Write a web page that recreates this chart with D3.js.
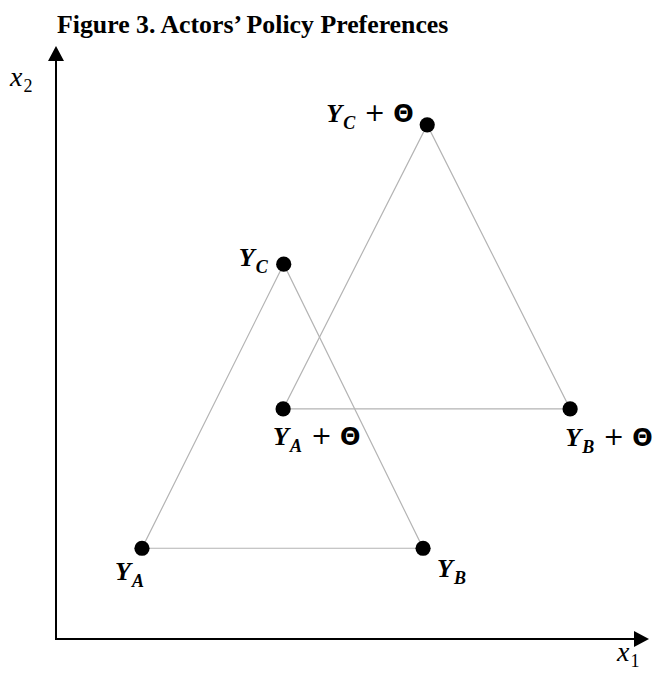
<!DOCTYPE html>
<html>
<head>
<meta charset="utf-8">
<script src="https://cdn.jsdelivr.net/npm/d3@7"></script>
<style>
  html, body { margin: 0; padding: 0; background: #fff; }
  svg { display: block; }
</style>
</head>
<body>
<div id="chart"></div>
<script>
// actors' ideal points (axis units 0-100)
const actors   = ["A", "B", "C", "A", "B", "C"];
const shifted  = [false, false, false, true, true, true];
const xValues  = [14.5, 61.9, 38.4, 38.3, 86.7, 62.6];
const yValues  = [15.3, 15.3, 63.2, 38.8, 38.8, 86.7];
const triangles = [[0, 1, 2], [3, 4, 5]];

const titleText = "Figure 3. Actors\u2019 Policy Preferences";
const axisNames = ["1", "2"];   // subscripts of x_1 and x_2

const width = 658, height = 684;
const svg = d3.select("#chart").append("svg")
    .attr("width", width)
    .attr("height", height);

const xScale = d3.scaleLinear().domain([0, 100]).range([56, 649]);
const yScale = d3.scaleLinear().domain([0, 100]).range([639, 46]);

const points = actors.map((a, i) => ({
    actor: a, theta: shifted[i], x: xValues[i], y: yValues[i]
}));

// title
svg.append("text")
    .attr("x", 57)
    .attr("y", 33)
    .attr("font-family", "Liberation Serif, Times New Roman, serif")
    .attr("font-weight", "bold")
    .attr("font-size", 25.8)
    .text(titleText);

// axes with arrow heads
const axisG = svg.append("g");
axisG.append("line")
    .attr("x1", xScale(0)).attr("y1", yScale(0))
    .attr("x2", xScale(100) - 10).attr("y2", yScale(0))
    .attr("stroke", "#000").attr("stroke-width", 2);
axisG.append("line")
    .attr("x1", xScale(0)).attr("y1", yScale(0) + 1)
    .attr("x2", xScale(0)).attr("y2", yScale(100) + 10)
    .attr("stroke", "#000").attr("stroke-width", 2);
axisG.append("path")
    .attr("d", `M${xScale(100)},${yScale(0)} L${xScale(100) - 15},${yScale(0) - 8} L${xScale(100) - 15},${yScale(0) + 8} Z`)
    .attr("fill", "#000");
axisG.append("path")
    .attr("d", `M${xScale(0)},${yScale(100)} L${xScale(0) - 8},${yScale(100) + 15} L${xScale(0) + 8},${yScale(100) + 15} Z`)
    .attr("fill", "#000");

// axis names x_1, x_2
function axisLabel(x, y, sub) {
    const t = svg.append("text")
        .attr("x", x).attr("y", y)
        .attr("font-family", "Liberation Serif, Times New Roman, serif");
    t.append("tspan").attr("font-style", "italic").attr("font-size", 28).text("x");
    t.append("tspan").attr("font-size", 18).attr("dy", 6).attr("dx", 1).text(sub);
}
axisLabel(617, 661, axisNames[0]);
axisLabel(10, 86, axisNames[1]);

// triangle edges
const lineGen = d3.line().x(d => xScale(d.x)).y(d => yScale(d.y));
svg.selectAll(".tri")
    .data(triangles)
    .enter()
    .append("path")
    .attr("class", "tri")
    .attr("d", d => lineGen(d.map(i => points[i])) + "Z")
    .attr("fill", "none")
    .attr("stroke", "#b4b4b4")
    .attr("stroke-width", 1.2);

// dots
svg.selectAll(".pt")
    .data(points)
    .enter()
    .append("circle")
    .attr("class", "pt")
    .attr("cx", d => xScale(d.x))
    .attr("cy", d => yScale(d.y))
    .attr("r", 7.6)
    .attr("fill", "#000");

// label placement relative to each dot (layout only)
const labelOffset = [[-27, 32], [14, 29], [-45, 2], [-10, 36], [-5, 37], [-101, -3]];

const labels = svg.selectAll(".lab")
    .data(points)
    .enter()
    .append("g")
    .attr("class", "lab")
    .attr("transform", (d, i) => `translate(${xScale(d.x) + labelOffset[i][0]},${yScale(d.y) + labelOffset[i][1]})`);

labels.append("text")
    .attr("font-family", "Liberation Serif, Times New Roman, serif")
    .attr("font-weight", "bold")
    .attr("font-style", "italic")
    .attr("font-size", 26)
    .text("Y");
labels.append("text")
    .attr("x", 17)
    .attr("y", 7)
    .attr("font-family", "Liberation Serif, Times New Roman, serif")
    .attr("font-weight", "bold")
    .attr("font-style", "italic")
    .attr("font-size", 18)
    .text(d => d.actor);
labels.filter(d => d.theta).append("text")
    .attr("x", 38)
    .attr("y", -1)
    .attr("font-family", "DejaVu Sans, sans-serif")
    .attr("font-size", 25)
    .text("+");
labels.filter(d => d.theta).append("text")
    .attr("x", 67)
    .attr("y", 0)
    .attr("font-family", "DejaVu Sans, sans-serif")
    .attr("font-weight", "bold")
    .attr("font-size", 24)
    .text("\u0398");
</script>
</body>
</html>
